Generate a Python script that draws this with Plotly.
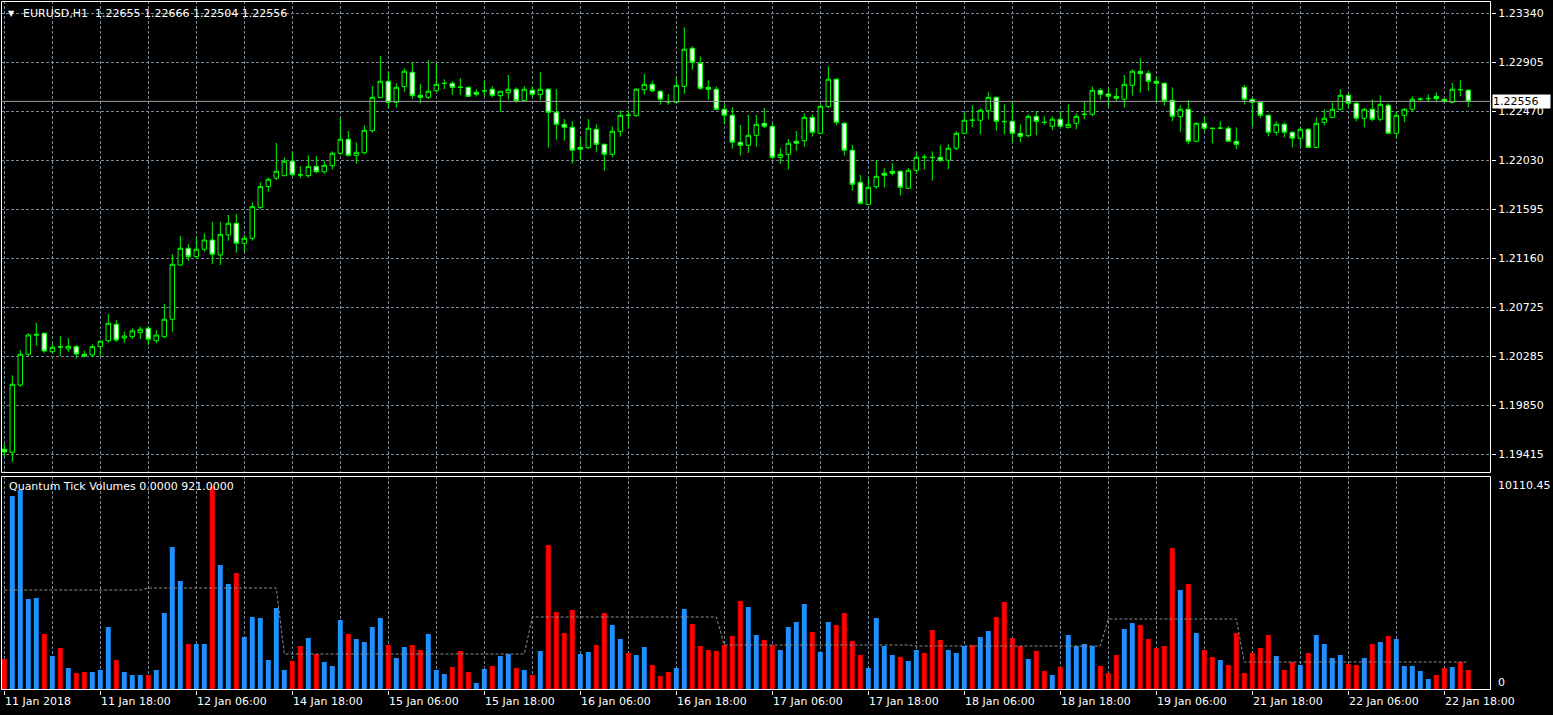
import plotly.graph_objects as go

W, H = 1553, 715

# ---------------- data ----------------
tick_bars = [0, 12, 24, 36, 48, 60, 72, 84, 96, 108, 120, 132, 144, 156, 168, 180]
tick_labels = ["11 Jan 2018", "11 Jan 18:00", "12 Jan 06:00", "14 Jan 18:00", "15 Jan 06:00",
               "15 Jan 18:00", "16 Jan 06:00", "16 Jan 18:00", "17 Jan 06:00", "17 Jan 18:00",
               "18 Jan 06:00", "18 Jan 18:00", "19 Jan 06:00", "21 Jan 18:00", "22 Jan 06:00",
               "22 Jan 18:00"]
price_ticks = [1.23340, 1.22905, 1.22470, 1.22030, 1.21595, 1.21160, 1.20725, 1.20285, 1.19850, 1.19415]

open_ = [
    1.19460, 1.19433, 1.20032, 1.20305, 1.20483, 1.20492, 1.20328, 1.20373, 1.20352, 1.20373,
    1.20305, 1.20299, 1.20373, 1.20426, 1.20572, 1.20450, 1.20462, 1.20497, 1.20537, 1.20426,
    1.20462, 1.20617, 1.21100, 1.21249, 1.21174, 1.21240, 1.21322, 1.21189, 1.21367, 1.21471,
    1.21293, 1.21338, 1.21613, 1.21797, 1.21872, 1.21895, 1.22023, 1.21904, 1.21895, 1.21978,
    1.21930, 1.21984, 1.22094, 1.22219, 1.22076, 1.22099, 1.22295, 1.22589, 1.22735, 1.22548,
    1.22687, 1.22815, 1.22610, 1.22592, 1.22651, 1.22717, 1.22717, 1.22681, 1.22681, 1.22637,
    1.22651, 1.22664, 1.22607, 1.22633, 1.22664, 1.22562, 1.22655, 1.22616, 1.22664, 1.22459,
    1.22352, 1.22325, 1.22147, 1.22144, 1.22308, 1.22174, 1.22085, 1.22290, 1.22432, 1.22429,
    1.22660, 1.22708, 1.22646, 1.22553, 1.22548, 1.22690, 1.23029, 1.22895, 1.22681, 1.22664,
    1.22486, 1.22432, 1.22192, 1.22165, 1.22254, 1.22361, 1.22334, 1.22058, 1.22085, 1.22201,
    1.22206, 1.22414, 1.22272, 1.22509, 1.22753, 1.22361, 1.22121, 1.21836, 1.21640, 1.21797,
    1.21916, 1.21934, 1.21934, 1.21783, 1.21943, 1.22058, 1.22058, 1.22058, 1.22032, 1.22139,
    1.22272, 1.22388, 1.22388, 1.22473, 1.22592, 1.22375, 1.22379, 1.22272, 1.22251, 1.22423,
    1.22370, 1.22334, 1.22397, 1.22325, 1.22361, 1.22441, 1.22441, 1.22655, 1.22622, 1.22601,
    1.22575, 1.22699, 1.22824, 1.22806, 1.22735, 1.22717, 1.22566, 1.22420, 1.22486, 1.22201,
    1.22361, 1.22317, 1.22317, 1.22317, 1.22201, 1.22681, 1.22575, 1.22548, 1.22432, 1.22281,
    1.22352, 1.22281, 1.22228, 1.22308, 1.22147, 1.22370, 1.22414, 1.22486, 1.22610, 1.22539,
    1.22406, 1.22486, 1.22397, 1.22521, 1.22272, 1.22432, 1.22486, 1.22575, 1.22580, 1.22601,
    1.22575, 1.22548, 1.22660, 1.22655]

high = [
    1.19507, 1.20118, 1.20343, 1.20492, 1.20586, 1.20501, 1.20403, 1.20468, 1.20448, 1.20388,
    1.20337, 1.20394, 1.20432, 1.20664, 1.20610, 1.20506, 1.20537, 1.20551, 1.20557, 1.20521,
    1.20753, 1.21198, 1.21358, 1.21287, 1.21346, 1.21382, 1.21485, 1.21485, 1.21545, 1.21554,
    1.21367, 1.21658, 1.21836, 1.21880, 1.22186, 1.22058, 1.22103, 1.21981, 1.22076, 1.22070,
    1.22028, 1.22112, 1.22408, 1.22292, 1.22192, 1.22343, 1.22693, 1.22960, 1.22820, 1.22717,
    1.22851, 1.22904, 1.22711, 1.22924, 1.22895, 1.22753, 1.22735, 1.22764, 1.22690, 1.22664,
    1.22744, 1.22693, 1.22646, 1.22791, 1.22681, 1.22693, 1.22690, 1.22818, 1.22675, 1.22666,
    1.22399, 1.22379, 1.22236, 1.22399, 1.22352, 1.22181, 1.22334, 1.22477, 1.22477, 1.22673,
    1.22800, 1.22735, 1.22657, 1.22622, 1.22762, 1.23215, 1.23046, 1.22957, 1.22744, 1.22690,
    1.22530, 1.22503, 1.22346, 1.22435, 1.22435, 1.22497, 1.22361, 1.22139, 1.22221, 1.22292,
    1.22450, 1.22441, 1.22530, 1.22868, 1.22762, 1.22375, 1.22168, 1.21901, 1.21880, 1.22032,
    1.21961, 1.22005, 1.21943, 1.21961, 1.22094, 1.22085, 1.22112, 1.22165, 1.22174, 1.22290,
    1.22459, 1.22521, 1.22495, 1.22637, 1.22601, 1.22530, 1.22553, 1.22352, 1.22441, 1.22468,
    1.22423, 1.22423, 1.22468, 1.22530, 1.22450, 1.22560, 1.22690, 1.22673, 1.22673, 1.22675,
    1.22791, 1.22842, 1.22940, 1.22833, 1.22776, 1.22724, 1.22681, 1.22521, 1.22566, 1.22370,
    1.22423, 1.22320, 1.22379, 1.22337, 1.22325, 1.22705, 1.22584, 1.22557, 1.22441, 1.22379,
    1.22370, 1.22290, 1.22325, 1.22317, 1.22414, 1.22486, 1.22548, 1.22664, 1.22628, 1.22548,
    1.22495, 1.22575, 1.22610, 1.22539, 1.22468, 1.22495, 1.22601, 1.22592, 1.22619, 1.22637,
    1.22584, 1.22720, 1.22744, 1.22666]

low = [
    1.19394, 1.19349, 1.20017, 1.20290, 1.20382, 1.20319, 1.20314, 1.20290, 1.20328, 1.20270,
    1.20278, 1.20284, 1.20290, 1.20408, 1.20417, 1.20408, 1.20441, 1.20441, 1.20388, 1.20403,
    1.20448, 1.20506, 1.21091, 1.21138, 1.21160, 1.21218, 1.21109, 1.21100, 1.21316, 1.21209,
    1.21218, 1.21316, 1.21596, 1.21752, 1.21856, 1.21889, 1.21886, 1.21872, 1.21877, 1.21916,
    1.21912, 1.21948, 1.22079, 1.22064, 1.22001, 1.22085, 1.22277, 1.22584, 1.22500, 1.22500,
    1.22642, 1.22577, 1.22539, 1.22577, 1.22637, 1.22666, 1.22613, 1.22613, 1.22595, 1.22598,
    1.22598, 1.22592, 1.22464, 1.22575, 1.22544, 1.22557, 1.22592, 1.22568, 1.22144, 1.22215,
    1.22206, 1.22001, 1.22034, 1.22135, 1.22108, 1.21939, 1.22058, 1.22242, 1.22322, 1.22420,
    1.22616, 1.22637, 1.22527, 1.22527, 1.22544, 1.22624, 1.22838, 1.22657, 1.22571, 1.22477,
    1.22352, 1.22135, 1.22073, 1.22097, 1.22153, 1.22317, 1.22041, 1.22001, 1.21948, 1.22117,
    1.22153, 1.22242, 1.22263, 1.22495, 1.22343, 1.22073, 1.21761, 1.21637, 1.21637, 1.21779,
    1.21791, 1.21895, 1.21720, 1.21776, 1.21912, 1.21948, 1.21850, 1.22014, 1.21952, 1.22121,
    1.22263, 1.22325, 1.22263, 1.22397, 1.22295, 1.22263, 1.22192, 1.22192, 1.22236, 1.22254,
    1.22346, 1.22299, 1.22325, 1.22313, 1.22308, 1.22397, 1.22423, 1.22575, 1.22509, 1.22562,
    1.22500, 1.22607, 1.22633, 1.22651, 1.22544, 1.22518, 1.22379, 1.22286, 1.22174, 1.22192,
    1.22290, 1.22183, 1.22308, 1.22195, 1.22130, 1.22530, 1.22334, 1.22406, 1.22245, 1.22254,
    1.22236, 1.22147, 1.22156, 1.22139, 1.22139, 1.22343, 1.22406, 1.22473, 1.22503, 1.22379,
    1.22325, 1.22379, 1.22379, 1.22266, 1.22228, 1.22370, 1.22468, 1.22562, 1.22548, 1.22548,
    1.22539, 1.22539, 1.22601, 1.22504]

close = [
    1.19436, 1.20038, 1.20305, 1.20477, 1.20477, 1.20335, 1.20367, 1.20370, 1.20376, 1.20308,
    1.20290, 1.20373, 1.20421, 1.20581, 1.20432, 1.20468, 1.20513, 1.20528, 1.20439, 1.20477,
    1.20617, 1.21106, 1.21249, 1.21174, 1.21240, 1.21322, 1.21195, 1.21373, 1.21471, 1.21293,
    1.21338, 1.21619, 1.21797, 1.21863, 1.21934, 1.22023, 1.21904, 1.21901, 1.21975, 1.21930,
    1.21987, 1.22094, 1.22219, 1.22076, 1.22103, 1.22299, 1.22592, 1.22735, 1.22548, 1.22681,
    1.22824, 1.22607, 1.22592, 1.22646, 1.22708, 1.22716, 1.22681, 1.22682, 1.22601, 1.22619,
    1.22650, 1.22610, 1.22646, 1.22664, 1.22562, 1.22664, 1.22619, 1.22664, 1.22459, 1.22352,
    1.22325, 1.22121, 1.22130, 1.22317, 1.22174, 1.22085, 1.22290, 1.22432, 1.22433, 1.22664,
    1.22708, 1.22651, 1.22575, 1.22552, 1.22699, 1.23020, 1.22904, 1.22673, 1.22664, 1.22486,
    1.22432, 1.22192, 1.22165, 1.22254, 1.22352, 1.22334, 1.22058, 1.22085, 1.22183, 1.22183,
    1.22414, 1.22281, 1.22512, 1.22753, 1.22370, 1.22121, 1.21818, 1.21649, 1.21791, 1.21889,
    1.21898, 1.21916, 1.21791, 1.21943, 1.22058, 1.22059, 1.22057, 1.22032, 1.22139, 1.22272,
    1.22388, 1.22389, 1.22477, 1.22592, 1.22379, 1.22376, 1.22272, 1.22245, 1.22423, 1.22379,
    1.22369, 1.22397, 1.22334, 1.22352, 1.22423, 1.22442, 1.22655, 1.22619, 1.22601, 1.22584,
    1.22708, 1.22824, 1.22802, 1.22735, 1.22717, 1.22562, 1.22423, 1.22486, 1.22201, 1.22361,
    1.22317, 1.22316, 1.22318, 1.22201, 1.22174, 1.22575, 1.22548, 1.22432, 1.22281, 1.22352,
    1.22281, 1.22228, 1.22308, 1.22147, 1.22361, 1.22406, 1.22486, 1.22610, 1.22539, 1.22406,
    1.22486, 1.22397, 1.22530, 1.22272, 1.22432, 1.22486, 1.22575, 1.22576, 1.22581, 1.22580,
    1.22557, 1.22664, 1.22661, 1.22556]

volume = [
    1500, 9650, 9950, 4500, 4550, 2750, 1650, 2050, 1050, 800,
    850, 850, 950, 3100, 1450, 850, 700, 700, 700, 950,
    3800, 7100, 5400, 2250, 2250, 2250, 10110, 6200, 5250, 5800,
    2600, 3600, 3550, 1450, 4050, 950, 1400, 2150, 2550, 1750,
    1350, 1150, 3450, 2750, 2500, 2350, 3100, 3550, 2200, 1550,
    2100, 2200, 1950, 2750, 950, 750, 1100, 1900, 850, 300,
    1000, 1150, 1650, 1750, 1050, 950, 700, 1900, 7200, 3850,
    2800, 3950, 1750, 1850, 2200, 3800, 3200, 2500, 1800, 1700,
    2100, 1200, 650, 850, 1050, 4000, 3250, 2150, 1950, 1900,
    2200, 2650, 4400, 4100, 2700, 2450, 2200, 1950, 3100, 3350,
    4250, 2850, 1850, 3350, 3200, 3800, 2400, 1700, 1050, 3550,
    2150, 1700, 1600, 1400, 1950, 1800, 2950, 2450, 1950, 1800,
    2150, 2200, 2600, 2900, 3600, 4350, 2550, 2150, 1500, 1900,
    900, 700, 1100, 2700, 2150, 2250, 2150, 1150, 800, 1700,
    3000, 3300, 3200, 2500, 2050, 2150, 7050, 4950, 5250, 2800,
    1950, 1600, 1450, 1200, 2800, 800, 1800, 2050, 2700, 1650,
    950, 1350, 1200, 1800, 2700, 2250, 1550, 1700, 1250, 1200,
    1550, 2250, 2350, 2650, 2500, 1150, 1150, 900, 500, 700,
    1050, 1100, 1350, 950]

# B = blue (up) bar, R = red (down) bar
vol_direction = list(
    "RBBBBRBRBR" "RBBBRBBBRB" "BBBRBBRBBR" "BBBBBBRRBR" "BBBRBBBBRB"
    "BRRBBBRRRB" "BRBBRBRBRR" "RRBBRRBBRB" "BRRRBBRRRR" "RRRBBRRBBB"
    "BRBBRRRRBB" "BBRBBRRRBB" "BRBBRRRRBR" "RBRBBBBRRR" "BBRRRRRBRB"
    "RRBRRRRRRB" "RRBRBBBBRR" "BRBRBBBBBR" "RBRR")

# dashed average level of the volume pane, per session
avg_seg_start = [0, 18, 35, 66, 90, 114, 138, 155]
avg_seg_end = [17, 34, 65, 89, 113, 137, 154, 183]
avg_seg_value = [4950, 5050, 1750, 3600, 2200, 2150, 3500, 1350]

vol_title = "Quantum Tick Volumes 0.0000 921.0000"
vol_scale_labels = ["10110.45", "0"]

# ---------------- geometry helpers ----------------
def px(xp):
    return xp / W


def py(yp):
    return 1 - yp / H


PRICE_PER_PX = 0.000089          # vertical scale of the price pane
TOP_TICK_PX = 13.3               # pixel row of the top price grid line


def price_at(yp):
    return price_ticks[0] - (yp - TOP_TICK_PX) * PRICE_PER_PX


BAR_PX = 8.0
PLOT_L, PLOT_R = 1, 1491
FIRST_BAR_PX = 4.3
x0 = -(FIRST_BAR_PX - PLOT_L) / BAR_PX
x1 = x0 + (PLOT_R - PLOT_L) / BAR_PX

VOL_PER_PX = 50.0
VOL_ZERO_PX = 689
MAIN_TOP, MAIN_BOT = 1, 473
VOL_TOP, VOL_BOT = 476, 690

bars = list(range(len(close)))
colors = {"B": "#1e90ff", "R": "#ff0000"}
bar_colors = [colors[c] for c in vol_direction]

avg_line = []
for s, e, v in zip(avg_seg_start, avg_seg_end, avg_seg_value):
    avg_line += [v] * (e - s + 1)

FONT = "DejaVu Sans"
GRID = dict(gridcolor="#778899", gridwidth=1, griddash="3px,2px")

fig = go.Figure()
fig.add_trace(go.Candlestick(
    x=bars, open=open_, high=high, low=low, close=close,
    increasing=dict(line=dict(color="#00ff00", width=1), fillcolor="#000000"),
    decreasing=dict(line=dict(color="#00ff00", width=1), fillcolor="#ffffff"),
    whiskerwidth=0, xaxis="x", yaxis="y", hoverinfo="skip", showlegend=False))
fig.add_trace(go.Bar(
    x=bars, y=volume, width=0.62, marker=dict(color=bar_colors, line=dict(width=0)),
    xaxis="x", yaxis="y2", hoverinfo="skip", showlegend=False))
fig.add_trace(go.Scatter(
    x=bars, y=avg_line, mode="lines",
    line=dict(color="#8c8c8c", width=1, dash="3px,2px"),
    xaxis="x", yaxis="y2", hoverinfo="skip", showlegend=False))

shapes = [
    dict(type="rect", xref="paper", yref="paper",
         x0=px(PLOT_L + 0.5), x1=px(PLOT_R - 0.5), y0=py(MAIN_BOT - 0.5), y1=py(MAIN_TOP + 0.5),
         line=dict(color="white", width=1), layer="above"),
    dict(type="rect", xref="paper", yref="paper",
         x0=px(PLOT_L + 0.5), x1=px(PLOT_R - 0.5), y0=py(VOL_BOT - 0.5), y1=py(VOL_TOP + 0.5),
         line=dict(color="white", width=1), layer="above"),
    dict(type="line", xref="paper", yref="y",
         x0=px(PLOT_L), x1=px(PLOT_R), y0=close[-1], y1=close[-1],
         line=dict(color="#a0a0a0", width=1), layer="above"),
]

annotations = []
annotations.append(dict(text="\u25BC", xref="paper", yref="paper", x=px(11), y=py(13),
                        xanchor="center", yanchor="middle", showarrow=False,
                        font=dict(family=FONT, size=8, color="white")))
title = "EURUSD,H1\u00a0\u00a0{:.5f} {:.5f} {:.5f} {:.5f}".format(open_[-1], high[-1], low[-1], close[-1])
annotations.append(dict(text=title, xref="paper", yref="paper", x=px(21), y=py(13),
                        xanchor="left", yanchor="middle", showarrow=False,
                        font=dict(family=FONT, size=11, color="white")))
annotations.append(dict(text=vol_title, xref="paper", yref="paper", x=px(7), y=py(486),
                        xanchor="left", yanchor="middle", showarrow=False,
                        font=dict(family=FONT, size=11, color="white")))
for lab, yp in zip(vol_scale_labels, [485, 682]):
    annotations.append(dict(text=lab, xref="paper", yref="paper", x=px(1496), y=py(yp),
                            xanchor="left", yanchor="middle", showarrow=False,
                            font=dict(family=FONT, size=11, color="white")))
for b, lab in zip(tick_bars, tick_labels):
    annotations.append(dict(text=lab, xref="x", yref="paper", x=b, y=py(701),
                            xanchor="left", yanchor="middle", showarrow=False, xshift=-1,
                            font=dict(family=FONT, size=11, color="white")))
annotations.append(dict(text="{:.5f}".format(close[-1]), xref="paper", yref="y",
                        x=px(1492), y=close[-1], xanchor="left", yanchor="middle",
                        showarrow=False, bgcolor="white", borderpad=0, width=57, height=13,
                        align="left", font=dict(family=FONT, size=11, color="black")))

fig.update_layout(
    width=W, height=H, margin=dict(l=0, r=0, t=0, b=0),
    paper_bgcolor="black", plot_bgcolor="black",
    font=dict(family=FONT, size=11, color="white"),
    showlegend=False, boxgap=0.2, boxgroupgap=0.3, hovermode=False,
    xaxis=dict(domain=[px(PLOT_L), px(PLOT_R)], range=[x0, x1], anchor="y2",
               tickmode="array", tickvals=tick_bars, showticklabels=False,
               ticks="outside", ticklen=4, tickcolor="white", tickwidth=1,
               showgrid=True, **GRID,
               minor=dict(tickmode="linear", tick0=0, dtick=6, showgrid=True, ticks="", **GRID),
               zeroline=False, showline=False, rangeslider=dict(visible=False), fixedrange=True),
    yaxis=dict(domain=[py(MAIN_BOT), py(MAIN_TOP)], range=[price_at(MAIN_BOT), price_at(MAIN_TOP)],
               anchor="x", side="right", tickmode="array", tickvals=price_ticks,
               ticktext=["{:.5f}".format(v) for v in price_ticks],
               ticks="outside", ticklen=4, tickcolor="white", showgrid=True, **GRID,
               zeroline=False, showline=False, fixedrange=True,
               tickfont=dict(family=FONT, size=11, color="white")),
    yaxis2=dict(domain=[py(VOL_BOT), py(VOL_TOP)],
                range=[(VOL_ZERO_PX - VOL_BOT) * VOL_PER_PX, (VOL_ZERO_PX - VOL_TOP) * VOL_PER_PX],
                anchor="x", side="right", showgrid=False, showticklabels=False,
                zeroline=False, showline=False, ticks="", fixedrange=True),
    shapes=shapes, annotations=annotations,
)

fig.write_html("out.html", config={"displayModeBar": False},
               post_script="document.body.style.margin='0';document.body.style.padding='0';"
                           "document.documentElement.style.overflow='hidden';")
